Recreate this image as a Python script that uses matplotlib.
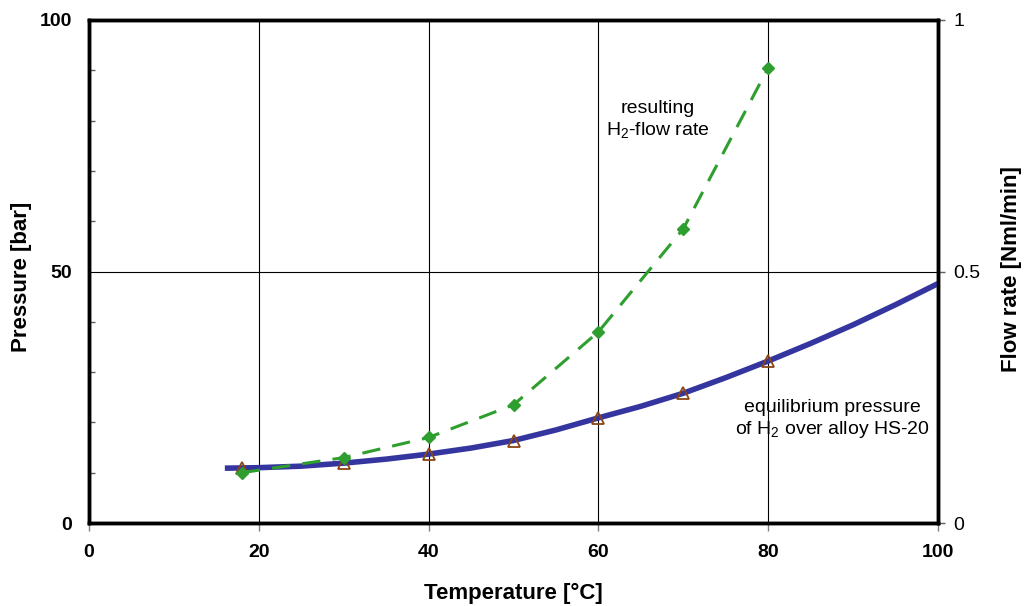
import matplotlib
matplotlib.use("Agg")
import matplotlib.pyplot as plt
from matplotlib.ticker import MultipleLocator

plt.rcParams['font.family'] = ['Liberation Sans', 'DejaVu Sans']
plt.rcParams['mathtext.fontset'] = 'custom'
plt.rcParams['mathtext.rm'] = 'Liberation Sans'
plt.rcParams['mathtext.default'] = 'regular'

# Equilibrium pressure curve (bar)
curve_T = [16, 20, 25, 30, 35, 40, 45, 50, 55, 60, 65, 70, 75, 80, 85, 90, 95, 100]
curve_p = [10.9, 11.0, 11.3, 11.9, 12.7, 13.7, 14.9, 16.4, 18.5, 20.9, 23.2, 25.8,
           28.9, 32.2, 35.7, 39.4, 43.4, 47.6]

# Measured pressure points (bar)
meas_T = [18, 30, 40, 50, 60, 70, 80]
meas_p = [10.9, 11.9, 13.7, 16.3, 20.9, 25.8, 32.2]

# Resulting flow rate (Nml/min)
flow_T = [18, 30, 40, 50, 60, 70, 80]
flow = [0.10, 0.13, 0.17, 0.235, 0.38, 0.585, 0.905]

fig = plt.figure(figsize=(10.27, 6.06), dpi=100)
ax = fig.add_axes([89/1027, 83/606, (938-89)/1027, (523-20)/606])
ax2 = ax.twinx()

ax.plot(curve_T, curve_p, color='#3535a0', lw=4, zorder=3, solid_capstyle='butt')
ax.plot(meas_T, meas_p, ls='none', marker='^', ms=9, mfc='none', mec='#8b4513',
        mew=1.3, zorder=4)
ax2.plot(flow_T, flow, color='#2e9e2e', ls=(0, (6, 4)), lw=2.2, marker='D', ms=6,
         mfc='#2e9e2e', mec='#2e9e2e', zorder=5)

ax.set_xlim(0, 100)
ax.set_ylim(0, 100)
ax2.set_ylim(0, 1)

ax.xaxis.set_major_locator(MultipleLocator(20))
ax.yaxis.set_major_locator(MultipleLocator(50))
ax.yaxis.set_minor_locator(MultipleLocator(10))
ax2.yaxis.set_major_locator(MultipleLocator(0.5))
ax2.yaxis.set_major_formatter(plt.FuncFormatter(lambda v, p: '%g' % v))

ax.grid(True, which='major', color='black', lw=0.8)
ax.set_axisbelow(True)

ax.tick_params(axis='x', direction='out', length=6, width=1, color='#808080',
               labelsize=14, pad=9)
ax.tick_params(axis='y', which='major', direction='in', length=0, labelsize=14, pad=12)
ax.tick_params(axis='y', which='minor', direction='in', length=4, width=1, color='#606060')
ax2.tick_params(axis='y', direction='out', length=5, width=1, color='#606060',
                labelsize=14, pad=6)
for lab in ax.get_xticklabels() + ax.get_yticklabels():
    lab.set_fontweight('bold')

for a in (ax, ax2):
    for s in a.spines.values():
        s.set_linewidth(2.5)
        s.set_color('black')

ax.set_xlabel('Temperature [°C]', fontsize=16, fontweight='bold', labelpad=16)
ax.set_ylabel('Pressure [bar]', fontsize=16, fontweight='bold')
ax.yaxis.set_label_coords(-0.067, 0.49)
ax2.set_ylabel('Flow rate [Nml/min]', fontsize=16, fontweight='bold')
ax2.yaxis.set_label_coords(1.074, 0.505)

ax.text(67.0, 80.1, 'resulting\nH$_2$-flow rate', ha='center', va='center',
        fontsize=14, linespacing=1.2)
ax.text(87.6, 20.5, 'equilibrium pressure\nof H$_2$ over alloy HS-20', ha='center',
        va='center', fontsize=14, linespacing=1.2)

fig.savefig('out.png', dpi=100)
